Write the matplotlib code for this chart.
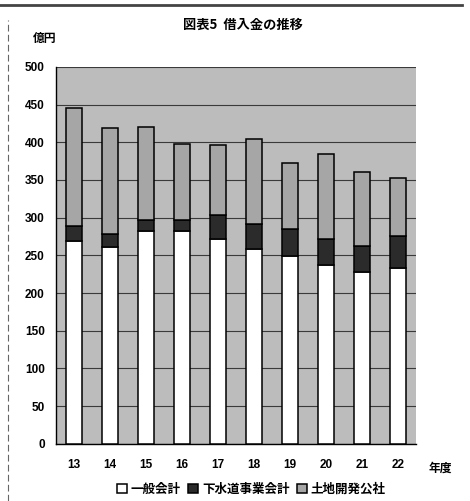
import numpy as np
import matplotlib
matplotlib.use("Agg")
import matplotlib.pyplot as plt

plt.rcParams['font.family'] = ['Noto Sans CJK JP', 'DejaVu Sans']

# borrowings by account, 100 million yen
years = ["13", "14", "15", "16", "17", "18", "19", "20", "21", "22"]
general = [269, 261, 282, 282, 272, 258, 249, 237, 228, 233]
sewer = [20, 18, 15, 15, 31, 33, 36, 35, 35, 43]
land = [157, 140, 123, 101, 94, 113, 87, 113, 97, 76]
series_names = ["一般会計", "下水道事業会計", "土地開発公社"]
yticks = [0, 50, 100, 150, 200, 250, 300, 350, 400, 450, 500]

fig = plt.figure(figsize=(4.70, 5.01), dpi=100)
ax = fig.add_axes([0.119, 0.114, 0.766, 0.7525])
ax.set_facecolor("#bcbcbc")

x = np.arange(len(years))
w = 0.43
general = np.array(general)
sewer = np.array(sewer)
land = np.array(land)
b1 = ax.bar(x, general, w, color="white", edgecolor="black", linewidth=1.1, zorder=3)
b2 = ax.bar(x, sewer, w, bottom=general, color="#2b2b2b", edgecolor="black",
            linewidth=1.1, zorder=3)
b3 = ax.bar(x, land, w, bottom=general + sewer, color="#a6a6a6", edgecolor="black",
            linewidth=1.1, zorder=3)

ax.set_xlim(-0.5, len(years) - 0.5)
ax.set_ylim(0, 500)
ax.set_yticks(yticks)
ax.yaxis.grid(True, color="#3a3a3a", linewidth=0.8, zorder=1)
ax.set_axisbelow(True)
ax.set_xticks(x)
ax.set_xticklabels(years)
for lab in ax.get_xticklabels() + ax.get_yticklabels():
    lab.set_family("Liberation Sans")
    lab.set_fontweight("bold")
    lab.set_fontsize(8.5)
ax.tick_params(axis="x", length=0, pad=11)
ax.tick_params(axis="y", length=0, pad=8)
for s in ["top", "right"]:
    ax.spines[s].set_visible(False)
ax.spines["left"].set_linewidth(1.0)
ax.spines["bottom"].set_linewidth(1.0)

fig.text(0.516, 0.950, "図表5  借入金の推移", ha="center", va="center",
         fontsize=9.5, fontweight="bold")
fig.text(0.096, 0.924, "億円", ha="center", va="center", fontsize=8.5, fontweight="bold")
fig.text(0.936, 0.066, "年度", ha="center", va="center", fontsize=8.5, fontweight="bold")

fig.legend([b1, b2, b3], series_names, loc="center", bbox_to_anchor=(0.535, 0.023),
           ncol=3, frameon=False, handlelength=0.8, handleheight=0.8,
           handletextpad=0.3, columnspacing=0.6, borderaxespad=0,
           prop={"size": 9, "weight": "bold"})

# page frame from the source document
fig.add_artist(plt.Line2D([0, 0.983], [0.991, 0.991], color="#444444", linewidth=2.0))
fig.add_artist(plt.Line2D([0.017, 0.017], [0.0, 0.96], color="#666666",
                          linewidth=0.8, linestyle=(0, (6, 3))))

fig.savefig("out.png", dpi=100)
